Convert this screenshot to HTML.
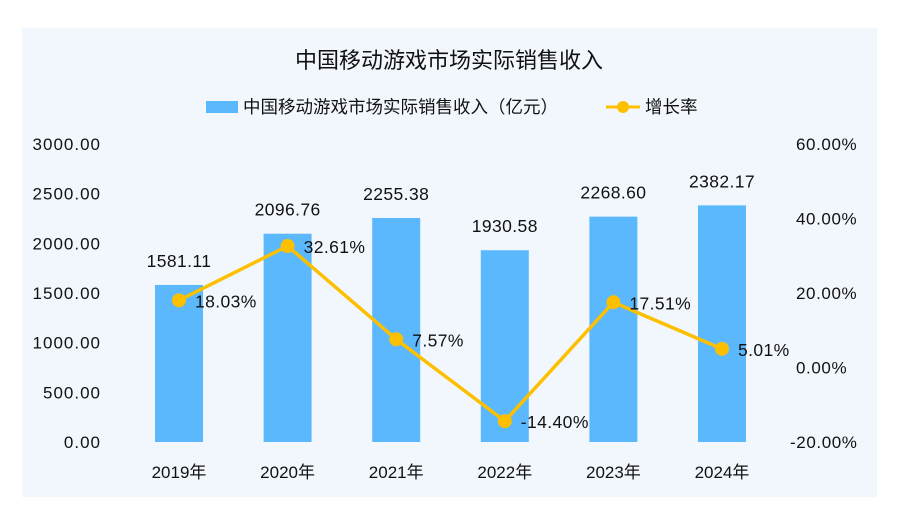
<!DOCTYPE html>
<html><head><meta charset="utf-8"><style>
body{margin:0;background:#fff;width:898px;height:515px;overflow:hidden;font-family:"Liberation Sans","Noto Sans CJK SC",sans-serif}
</style></head><body>
<svg width="898" height="515" font-family="Liberation Sans, Noto Sans CJK SC, sans-serif">
<rect x="22" y="28" width="855" height="469" fill="#f2f7fd"/>
<text x="449" y="68" text-anchor="middle" font-size="22" fill="#111">中国移动游戏市场实际销售收入</text>
<g>
<rect x="206" y="101" width="32" height="12" fill="#5bb8fd"/>
<text x="243" y="113" font-size="17.5" fill="#111">中国移动游戏市场实际销售收入（亿元）</text>
<line x1="606" y1="107" x2="640" y2="107" stroke="#fcc000" stroke-width="3"/>
<circle cx="623" cy="107" r="6" fill="#fcc000"/>
<text x="645" y="113" font-size="17.5" fill="#111">增长率</text>
</g>
<g id="axes"></g><g id="bars"></g><g id="line"></g>
</svg>
<script>
const categories=["2019年","2020年","2021年","2022年","2023年","2024年"];
const revenue=[1581.11,2096.76,2255.38,1930.58,2268.60,2382.17];
const growth=[18.03,32.61,7.57,-14.40,17.51,5.01];
const leftTicks=[0,500,1000,1500,2000,2500,3000];
const rightTicks=[-20,0,20,40,60];
const NS="http://www.w3.org/2000/svg";
const y0=442,yTop=144;
const yL=v=>y0-(v/3000)*(y0-yTop);
const yR=v=>y0-((v+20)/80)*(y0-yTop);
const xC=i=>179+i*108.6;
function mk(tag,attrs,parent,text){const e=document.createElementNS(NS,tag);for(const k in attrs)e.setAttribute(k,attrs[k]);if(text!==undefined)e.textContent=text;document.getElementById(parent).appendChild(e);return e;}
leftTicks.forEach(t=>{const e=mk('text',{x:101,y:yL(t)+6,'text-anchor':'end','font-size':17,'letter-spacing':1,fill:'#111'},'axes',t.toFixed(2));

});
rightTicks.forEach(t=>{const e=mk('text',{x:t<0?790:796,y:yR(t)+6,'font-size':17,'letter-spacing':0.6,fill:'#111'},'axes',t.toFixed(2)+'%');

});
categories.forEach((c,i)=>{const e=mk('text',{x:xC(i),y:478,'text-anchor':'middle','font-size':17,fill:'#111'},'axes',c);

});
revenue.forEach((v,i)=>{const r=mk('rect',{x:xC(i)-24,y:yL(v),width:48,height:y0-yL(v),fill:'#5bb8fd'},'bars');


const t=mk('text',{x:xC(i),y:yL(v)-18,'text-anchor':'middle','font-size':17.5,'letter-spacing':0.4,fill:'#111'},'bars',v.toFixed(2));

});
const pl=mk('polyline',{points:growth.map((g,i)=>xC(i)+','+yR(g)).join(' '),fill:'none',stroke:'#fcc000','stroke-width':3.5,'stroke-linejoin':'round'},'line');


growth.forEach((g,i)=>{const c=mk('circle',{cx:xC(i),cy:yR(g),r:7,fill:'#fcc000'},'line');


const t=mk('text',{x:xC(i)+16,y:yR(g)+7,'font-size':17.5,'letter-spacing':0.4,fill:'#111'},'line',g.toFixed(2)+'%');

});
</script>
</body></html>
